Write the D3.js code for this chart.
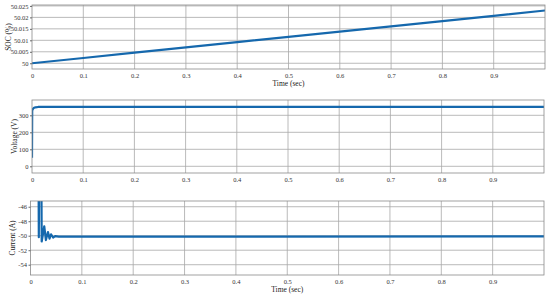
<!DOCTYPE html>
<html>
<head>
<meta charset="utf-8">
<script src="https://cdn.jsdelivr.net/npm/d3@7"></script>
<style>
  body { margin: 0; background: #fff; }
  svg { display: block; }
  .lbl { font-family: "Liberation Serif", serif; font-size: 7.5px; fill: #222; }
</style>
</head>
<body>
<svg id="chart" width="550" height="295"></svg>
<script>
// time axis shared by all three panels
const timeTicks = [0, 0.1, 0.2, 0.3, 0.4, 0.5, 0.6, 0.7, 0.8, 0.9];

// SOC (%)
const socTime = [0, 0.1, 0.2, 0.3, 0.4, 0.5, 0.6, 0.7, 0.8, 0.9, 1.0];
const socValues = [50, 50.0023, 50.0046, 50.0069, 50.0092, 50.0115, 50.0138, 50.0161, 50.0184, 50.0207, 50.023];
const socTicks = [50, 50.005, 50.01, 50.015, 50.02, 50.025];
const socTickLabels = ["50", "50.005", "50.01", "50.015", "50.02", "50.025"];

// Voltage (V)
const voltTime = [0, 0.0004, 0.002, 0.004, 0.007, 0.012, 0.02, 1.0];
const voltValues = [50, 328, 338, 344, 347, 349, 350, 350];
const voltTicks = [0, 100, 200, 300];

// Current (A)
const curTime = [0, 0.0150, 0.0162, 0.0176, 0.0205, 0.0218, 0.0268, 0.0300, 0.0340, 0.0370, 0.0400, 0.0440, 0.0480, 0.0550, 1.0];
const curValues = [-30, -30, -50.2, -30, -30, -50.8, -48.7, -50.6, -49.5, -50.4, -49.8, -50.25, -50.05, -50.12, -50.1];
const curTicks = [-54, -52, -50, -48, -46];

const svg = d3.select("#chart");
const blue = "#1568ad";
const serif = "Liberation Serif, serif";

const panels = [
  { left: 32, right: 545, top: 5, bottom: 69, yDomain: [49.9975, 50.0254],
    ticks: socTicks, labels: socTickLabels, t: socTime, v: socValues,
    ylabel: "SOC (%)", ylabelX: 8, timeLabel: true },
  { left: 32, right: 544, top: 100, bottom: 173, yDomain: [-39.4, 390],
    ticks: voltTicks, labels: voltTicks.map(String), t: voltTime, v: voltValues,
    ylabel: "Voltage (V)", ylabelX: 14, timeLabel: false },
  { left: 30.5, right: 544, top: 201, bottom: 275, yDomain: [-55.42, -45.21],
    ticks: curTicks, labels: curTicks.map(String), t: curTime, v: curValues,
    ylabel: "Current (A)", ylabelX: 12, timeLabel: true }
];

panels.forEach((p, i) => {
  const x = d3.scaleLinear().domain([0, 1]).range([p.left, p.right]);
  const y = d3.scaleLinear().domain(p.yDomain).range([p.bottom, p.top]);
  const g = svg.append("g");

  // grid
  g.selectAll(".gx").data(timeTicks.slice(1)).enter().append("line")
    .attr("x1", d => x(d)).attr("x2", d => x(d))
    .attr("y1", p.top).attr("y2", p.bottom)
    .attr("stroke", "#a8a8a8").attr("stroke-width", 0.8);
  g.selectAll(".gy").data(p.ticks).enter().append("line")
    .attr("x1", p.left).attr("x2", p.right)
    .attr("y1", d => y(d)).attr("y2", d => y(d))
    .attr("stroke", "#a8a8a8").attr("stroke-width", 0.8);

  // data line
  svg.append("clipPath").attr("id", "clip" + i).append("rect")
    .attr("x", p.left).attr("y", p.top)
    .attr("width", p.right - p.left).attr("height", p.bottom - p.top);
  const pts = p.t.map((t, k) => [t, p.v[k]]);
  g.append("path")
    .datum(pts)
    .attr("clip-path", `url(#clip${i})`)
    .attr("fill", "none")
    .attr("stroke", blue)
    .attr("stroke-width", 2.2)
    .attr("stroke-linejoin", "round")
    .attr("d", d3.line().x(d => x(d[0])).y(d => y(d[1])));

  // frame
  g.append("rect")
    .attr("x", p.left).attr("y", p.top)
    .attr("width", p.right - p.left).attr("height", p.bottom - p.top)
    .attr("fill", "none").attr("stroke", "#8a8a8a").attr("stroke-width", 0.8);

  // axes
  const xa = g.append("g")
    .attr("transform", `translate(0,${p.bottom})`)
    .call(d3.axisBottom(x).tickValues(timeTicks).tickFormat(d3.format("")).tickSize(0).tickPadding(4))
    .attr("font-family", serif).attr("font-size", 6.5);
  xa.select(".domain").remove();
  xa.selectAll("text").attr("fill", "#333");

  const ya = g.append("g")
    .attr("transform", `translate(${p.left},0)`)
    .call(d3.axisLeft(y).tickValues(p.ticks).tickFormat((d, k) => p.labels[k]).tickSize(2).tickPadding(1.5))
    .attr("font-family", serif).attr("font-size", 6.5);
  ya.select(".domain").remove();
  ya.selectAll(".tick line").attr("stroke", "#666");
  ya.selectAll("text").attr("fill", "#333");

  // labels
  g.append("text").attr("class", "lbl")
    .attr("transform", `translate(${p.ylabelX},${(p.top + p.bottom) / 2}) rotate(-90)`)
    .attr("text-anchor", "middle").attr("dy", "0.35em")
    .text(p.ylabel);
  if (p.timeLabel) {
    g.append("text").attr("class", "lbl")
      .attr("x", (p.left + p.right) / 2).attr("y", p.bottom + 17)
      .attr("text-anchor", "middle")
      .text("Time (sec)");
  }
});
</script>
</body>
</html>
